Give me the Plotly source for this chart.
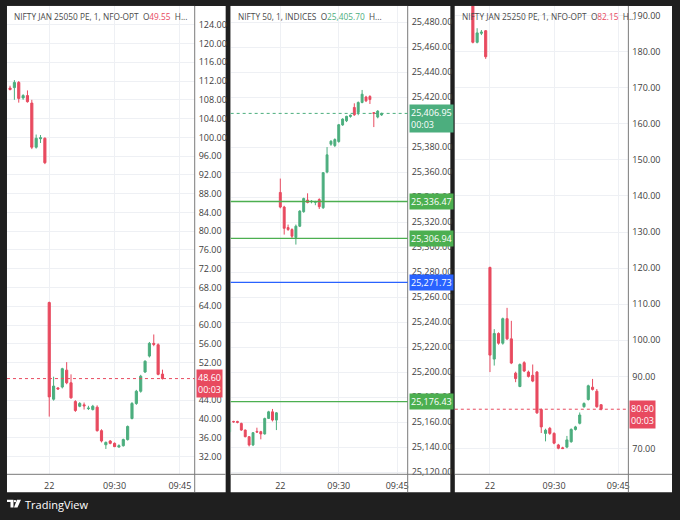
import plotly.graph_objects as go

FIG_W, FIG_H = 680, 520

# session times (prev day tail + 22 Jan morning)
today_times = ["09:15", "09:16", "09:17", "09:18", "09:19", "09:20", "09:21", "09:22", "09:23",
               "09:24", "09:25", "09:26", "09:27", "09:28", "09:29", "09:30", "09:31", "09:32",
               "09:33", "09:34", "09:35", "09:36", "09:37", "09:38", "09:39", "09:40", "09:41"]
x_tick_times = ["09:15", "09:30", "09:45"]
x_tick_labels = ["22", "09:30", "09:45"]

# NIFTY JAN 25050 PE
p1_prev_times = ["15:21", "15:22", "15:23", "15:24", "15:25", "15:26", "15:27", "15:28", "15:29"]
p1_open = [110.5, 110.6, 111.7, 108.4, 108.9, 107.3, 97.9, 99.7, 99.8,
           64.8, 44.2, 46.6, 46.8, 50.4, 47.7, 43.7, 42.7, 43.0, 42.2, 42.0, 42.5, 37.5, 34.5,
           35.3, 34.8, 34.0, 34.3, 35.6, 40.1, 43.3, 45.9, 50.0, 53.4, 56.1, 55.8, 49.55]
p1_high = [111.0, 112.2, 112.0, 109.2, 110.0, 108.0, 100.6, 100.5, 100.0,
           65.0, 49.0, 46.8, 50.9, 52.1, 49.5, 44.0, 43.6, 43.5, 42.8, 43.0, 42.9, 37.8, 35.2,
           35.5, 35.0, 34.6, 35.8, 38.6, 43.6, 46.2, 49.4, 52.5, 56.4, 58.0, 56.1, 50.5]
p1_low = [110.0, 108.0, 107.4, 108.0, 107.4, 97.5, 97.6, 98.8, 94.3,
          40.5, 43.9, 46.2, 46.5, 47.4, 44.3, 41.5, 42.5, 42.0, 41.9, 41.8, 37.3, 35.0, 33.6,
          34.6, 34.0, 33.9, 34.1, 35.4, 39.9, 43.0, 45.6, 49.8, 53.1, 55.5, 49.3, 48.4]
p1_close = [110.2, 111.7, 108.3, 108.9, 107.6, 97.9, 99.8, 99.9, 94.6,
            44.7, 47.0, 46.4, 50.7, 47.7, 44.5, 41.8, 43.3, 42.8, 42.3, 42.7, 37.5, 35.3, 35.0,
            34.8, 34.1, 34.3, 35.6, 38.4, 43.3, 45.9, 49.1, 52.3, 56.1, 55.9, 49.5, 48.60]
# 48.00 sits under the last-price label
p1_yticks = [32, 36, 40, 44, 52, 56, 60, 64, 68, 72, 76, 80, 84, 88, 92, 96, 100,
             104, 108, 112, 116, 120, 124]

# NIFTY 50 index
p2_prev_times = ["15:17", "15:18", "15:19", "15:20", "15:21", "15:22", "15:23", "15:24", "15:25",
                 "15:26", "15:27", "15:28", "15:29"]
p2_open = [25152.3, 25160.5, 25160.5, 25158.9, 25153.6, 25148.3, 25141.7, 25152.5, 25152.3,
           25150.5, 25162.9, 25168.2, 25161.6,
           25343.7, 25332.0, 25315.6, 25314.0, 25307.7, 25316.7, 25328.3, 25337.6, 25336.3,
           25335.8, 25338.0, 25331.5, 25360.0, 25382.3, 25381.2, 25384.4, 25397.7, 25401.0,
           25404.5, 25411.7, 25407.7, 25415.7, 25420.0, 25420.5, 25407.5, 25404.0, 25405.70]
p2_high = [25160.0, 25161.0, 25161.0, 25159.5, 25154.0, 25148.8, 25152.0, 25155.5, 25153.0,
           25163.5, 25169.0, 25170.5, 25168.0,
           25354.8, 25333.0, 25318.0, 25315.0, 25318.0, 25329.5, 25339.5, 25343.0, 25337.5,
           25337.0, 25339.0, 25360.0, 25380.0, 25385.5, 25387.0, 25398.5, 25403.0, 25405.0,
           25406.0, 25415.0, 25416.5, 25425.7, 25421.0, 25421.5, 25408.0, 25409.5, 25407.5]
p2_low = [25150.0, 25159.5, 25159.0, 25153.0, 25147.8, 25140.5, 25140.8, 25151.5, 25146.2,
          25150.0, 25162.5, 25160.5, 25153.6,
          25331.0, 25310.0, 25313.0, 25307.0, 25302.0, 25316.0, 25327.5, 25335.0, 25335.0,
          25333.5, 25330.5, 25330.5, 25359.0, 25381.0, 25380.0, 25383.5, 25397.0, 25400.0,
          25403.5, 25405.0, 25405.5, 25415.0, 25416.0, 25414.5, 25396.0, 25403.0, 25405.0]
p2_close = [25158.9, 25160.2, 25159.8, 25153.6, 25148.3, 25141.7, 25151.5, 25152.0, 25150.5,
            25162.9, 25168.2, 25161.6, 25167.4,
            25332.0, 25315.0, 25314.0, 25308.7, 25316.7, 25328.8, 25338.9, 25335.7, 25336.6,
            25336.2, 25332.3, 25359.5, 25373.8, 25384.7, 25386.0, 25397.9, 25402.4, 25404.6,
            25405.5, 25405.8, 25415.7, 25422.3, 25417.0, 25418.0, 25407.0, 25408.8, 25406.95]
# 25,400.00 sits under the last-price label
p2_yticks = [25120, 25140, 25160, 25180, 25200, 25220, 25240, 25260, 25280, 25300, 25320,
             25340, 25360, 25380, 25420, 25440, 25460, 25480]
p2_levels = [25336.47, 25306.94, 25271.73, 25176.43]
p2_level_colors = ["#4caf50", "#4caf50", "#2962ff", "#4caf50"]

# NIFTY JAN 25250 PE
p3_prev_times = ["15:26", "15:27", "15:28", "15:29"]
p3_open = [196.0, 182.6, 185.1, 185.8,
           120.2, 94.8, 101.9, 99.2, 106.0, 100.4, 90.9, 87.2, 93.8, 91.2, 90.3, 91.2, 80.8,
           74.2, 75.6, 74.2, 71.0, 70.2, 70.4, 71.9, 75.3, 77.0, 81.6, 83.6, 87.0, 85.9, 82.15]
p3_high = [197.0, 186.5, 186.0, 186.0,
           120.4, 103.1, 102.2, 106.3, 109.0, 105.4, 91.3, 93.6, 94.2, 91.6, 93.3, 91.5, 81.1,
           75.5, 76.0, 74.5, 71.3, 70.5, 73.5, 75.6, 76.3, 80.0, 82.8, 87.7, 89.3, 86.5, 82.3]
p3_low = [182.3, 182.3, 184.6, 178.0,
          91.2, 93.0, 98.8, 98.8, 100.1, 93.4, 88.4, 87.0, 91.2, 89.7, 88.4, 79.6, 74.3,
          72.0, 73.8, 71.2, 69.8, 69.9, 70.1, 71.6, 75.0, 76.7, 81.3, 83.3, 86.1, 81.3, 80.6]
p3_close = [182.6, 185.2, 185.4, 178.6,
            95.9, 101.9, 99.2, 106.0, 100.4, 93.7, 89.4, 93.3, 91.5, 90.0, 88.7, 79.9, 76.0,
            75.1, 74.2, 71.5, 70.1, 70.0, 72.4, 75.3, 76.0, 79.3, 82.5, 87.4, 86.4, 81.6, 80.90]
# 80.00 sits under the last-price label
p3_yticks = [70, 90, 100, 110, 120, 130, 140, 150, 160, 170, 180, 190]

UP = "#4cae7e"
DOWN = "#e84a5f"
GRID = "#eef0f4"
FONT = "Open Sans"


def px_x(v):
    return v / FIG_W


def px_y(v):
    return 1 - v / FIG_H


def bar_position(t):
    # bars counted from the 09:15 open; the previous session ends at -1
    h, m = int(t[:2]), int(t[3:])
    if h >= 12:
        return h * 60 + m - (15 * 60 + 30)
    return h * 60 + m - (9 * 60 + 15)


# panel geometry in pixels: card left/right, axis line x, x range in bars, y range
panels = [
    dict(card=(7, 226), axis_x=195, xr=[-9.7, 33.4], yr=[28.2, 128.0]),
    dict(card=(231, 451), axis_x=408.3, xr=[-12.74, 32.7], yr=[25118.2, 25492.9]),
    dict(card=(455.5, 673), axis_x=629.3, xr=[-8.22, 32.38], yr=[62.86, 192.67]),
]
CARD_TOP, CARD_BOTTOM, PLOT_BOTTOM = 6, 496, 478

series = [
    (p1_prev_times + today_times, p1_open, p1_high, p1_low, p1_close, p1_yticks, ".2f"),
    (p2_prev_times + today_times, p2_open, p2_high, p2_low, p2_close, p2_yticks, ",.2f"),
    (p3_prev_times + today_times, p3_open, p3_high, p3_low, p3_close, p3_yticks, ".2f"),
]
titles = ["NIFTY JAN 25050 PE, 1, NFO-OPT", "NIFTY 50, 1, INDICES", "NIFTY JAN 25250 PE, 1, NFO-OPT"]

fig = go.Figure()
shapes = []
annotations = []
layout = dict(width=FIG_W, height=FIG_H, margin=dict(l=0, r=0, t=0, b=0),
              paper_bgcolor="#1f1f1f", plot_bgcolor="white", showlegend=False,
              font=dict(family=FONT, size=9, color="#3d3d3d"))

for idx, (panel, (times, o, h, l, c, yticks, yfmt)) in enumerate(zip(panels, series)):
    n = "" if idx == 0 else str(idx + 1)
    xs = [bar_position(t) for t in times]
    fig.add_trace(go.Candlestick(
        x=xs, open=o, high=h, low=l, close=c,
        increasing=dict(line=dict(color=UP, width=1), fillcolor=UP),
        decreasing=dict(line=dict(color=DOWN, width=1), fillcolor=DOWN),
        whiskerwidth=0, hoverinfo="skip",
        xaxis="x" + n, yaxis="y" + n))

    left, right = panel["card"]
    ax = panel["axis_x"]
    layout["xaxis" + n] = dict(
        domain=[px_x(left), px_x(ax)], range=panel["xr"], anchor="y" + n,
        tickvals=[bar_position(t) for t in x_tick_times], ticktext=x_tick_labels,
        showgrid=True, gridcolor=GRID, zeroline=False, showline=False, ticks="",
        ticklabelstandoff=5, tickfont=dict(size=9, color="#3d3d3d"),
        rangeslider=dict(visible=False), fixedrange=True)
    layout["yaxis" + n] = dict(
        domain=[px_y(PLOT_BOTTOM), px_y(CARD_TOP)], range=panel["yr"], anchor="x" + n,
        side="right", tickvals=yticks, tickformat=yfmt, showgrid=True, gridcolor=GRID,
        zeroline=False, showline=False, ticks="", ticklabelstandoff=3,
        tickfont=dict(size=9, color="#3d3d3d"), fixedrange=True)

    # white card
    shapes.append(dict(type="rect", xref="paper", yref="paper", layer="below",
                       x0=px_x(left), x1=px_x(right), y0=px_y(CARD_BOTTOM), y1=px_y(CARD_TOP),
                       fillcolor="white", line=dict(width=0)))
    # scale separators
    shapes.append(dict(type="line", xref="paper", yref="paper",
                       x0=px_x(ax), x1=px_x(ax), y0=px_y(CARD_BOTTOM), y1=px_y(CARD_TOP),
                       line=dict(color="#7a7a7a", width=1)))
    shapes.append(dict(type="line", xref="paper", yref="paper",
                       x0=px_x(left), x1=px_x(right), y0=px_y(PLOT_BOTTOM), y1=px_y(PLOT_BOTTOM),
                       line=dict(color="#7a7a7a", width=1)))

    # last price line + label
    last_color = UP if c[-1] >= o[-1] else DOWN
    shapes.append(dict(type="line", xref="x" + n + " domain", yref="y" + n,
                       x0=0, x1=1, y0=c[-1], y1=c[-1],
                       line=dict(color=last_color, width=1, dash="dot")))
    annotations.append(dict(xref="paper", yref="y" + n, x=px_x(ax + 1), y=c[-1],
                            xanchor="left", yanchor="middle", yshift=-5, showarrow=False,
                            text=format(c[-1], yfmt) + "<br>00:03", align="left",
                            bgcolor=last_color, borderpad=1,
                            font=dict(color="white", size=9, family=FONT)))

    # header
    annotations.append(dict(xref="paper", yref="paper", x=px_x(left + 5), y=px_y(17),
                            xanchor="left", yanchor="middle", showarrow=False,
                            text=titles[idx] + "&nbsp;&nbsp;O<span style='color:" + last_color + "'>"
                                 + format(o[-1], yfmt) + "</span>&nbsp;&nbsp;H...",
                            font=dict(color="#4a4a4a", size=8.3, family=FONT)))

# alert / level lines on the index chart
for level, color in zip(p2_levels, p2_level_colors):
    shapes.append(dict(type="line", xref="x2 domain", yref="y2", x0=0, x1=1, y0=level, y1=level,
                       line=dict(color=color, width=1.3)))
    annotations.append(dict(xref="paper", yref="y2", x=px_x(panels[1]["axis_x"] + 1), y=level,
                            xanchor="left", yanchor="middle", showarrow=False,
                            text=format(level, ",.2f"), bgcolor=color, borderpad=1,
                            font=dict(color="white", size=9, family=FONT)))

# TradingView mark in the bottom bar
logo = ("M {} {} L {} {} L {} {} L {} {} L {} {} L {} {} Z").format(
    px_x(7), px_y(503.5), px_x(13.5), px_y(503.5), px_x(13.5), px_y(511.5),
    px_x(10.5), px_y(511.5), px_x(10.5), px_y(506), px_x(7), px_y(506))
slash = ("M {} {} L {} {} L {} {} L {} {} Z").format(
    px_x(17), px_y(503.5), px_x(21), px_y(503.5), px_x(17.5), px_y(511.5), px_x(14), px_y(511.5))
shapes.append(dict(type="path", xref="paper", yref="paper", path=logo,
                   fillcolor="white", line=dict(width=0)))
shapes.append(dict(type="path", xref="paper", yref="paper", path=slash,
                   fillcolor="white", line=dict(width=0)))
shapes.append(dict(type="circle", xref="paper", yref="paper",
                   x0=px_x(13.8), x1=px_x(16.2), y0=px_y(506.2), y1=px_y(503.8),
                   fillcolor="white", line=dict(width=0)))
annotations.append(dict(xref="paper", yref="paper", x=px_x(23), y=px_y(508),
                        xanchor="left", yanchor="middle", showarrow=False, text="TradingView",
                        font=dict(color="white", size=11, family=FONT)))

layout["shapes"] = shapes
layout["annotations"] = annotations
fig.update_layout(**layout)
# page body has a default 8px margin; drop it so the figure fills the window
fig.write_html("out.html", config={"displayModeBar": False},
               post_script="document.body.style.margin='0';")
